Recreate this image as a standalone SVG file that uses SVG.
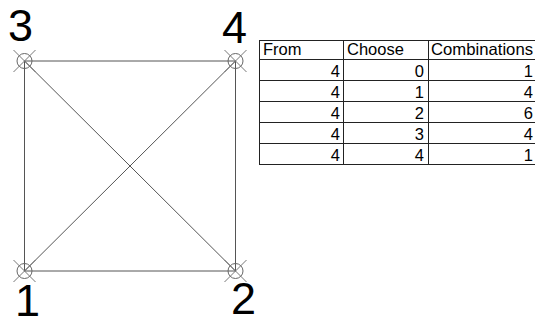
<svg xmlns="http://www.w3.org/2000/svg" width="535" height="320" viewBox="0 0 535 320">
<style>
.edge{stroke:#555;stroke-width:1;fill:none}
.ring{stroke:#666;stroke-width:1;fill:none}
.x{stroke:#777;stroke-width:1}
.lbl{font-family:"Liberation Sans",Arial,sans-serif;font-size:45px;fill:#000}
.grid{stroke:#222;stroke-width:1;fill:none}
.t{font-family:"Liberation Sans",Arial,sans-serif;font-size:16.5px;fill:#000}
.n{text-anchor:end}
</style>
<rect width="535" height="320" fill="#fff"/>
<g id="connectors">
<line class="edge" x1="24.5" y1="61" x2="235.5" y2="61"/>
<line class="edge" x1="24.5" y1="271" x2="235.5" y2="271"/>
<line class="edge" x1="24.5" y1="61" x2="24.5" y2="271"/>
<line class="edge" x1="235.5" y1="61" x2="235.5" y2="271"/>
<line class="edge" x1="24.5" y1="61" x2="235.5" y2="271"/>
<line class="edge" x1="235.5" y1="61" x2="24.5" y2="271"/>
</g>
<g id="node-3">
<circle class="ring" cx="24.5" cy="61" r="7.5"/>
<line class="x" x1="13.5" y1="50" x2="35.5" y2="72"/>
<line class="x" x1="35.5" y1="50" x2="13.5" y2="72"/>
<text class="lbl" x="8" y="41">3</text>
</g>
<g id="node-4">
<circle class="ring" cx="235.5" cy="61" r="7.5"/>
<line class="x" x1="224.5" y1="50" x2="246.5" y2="72"/>
<line class="x" x1="246.5" y1="50" x2="224.5" y2="72"/>
<text class="lbl" x="222" y="43">4</text>
</g>
<g id="node-1">
<circle class="ring" cx="24.5" cy="271" r="7.5"/>
<line class="x" x1="13.5" y1="260" x2="35.5" y2="282"/>
<line class="x" x1="35.5" y1="260" x2="13.5" y2="282"/>
<text class="lbl" x="15" y="316">1</text>
</g>
<g id="node-2">
<circle class="ring" cx="235.5" cy="271" r="7.5"/>
<line class="x" x1="224.5" y1="260" x2="246.5" y2="282"/>
<line class="x" x1="246.5" y1="260" x2="224.5" y2="282"/>
<text class="lbl" x="231" y="314">2</text>
</g>
<g id="table">
<rect class="grid" x="259.5" y="40.5" width="290" height="124"/>
<line class="grid" x1="343.5" y1="40.5" x2="343.5" y2="164.5"/>
<line class="grid" x1="428.5" y1="40.5" x2="428.5" y2="164.5"/>
<line class="grid" x1="259.5" y1="59.5" x2="549.5" y2="59.5"/>
<line class="grid" x1="259.5" y1="80.5" x2="549.5" y2="80.5"/>
<line class="grid" x1="259.5" y1="101.5" x2="549.5" y2="101.5"/>
<line class="grid" x1="259.5" y1="122.5" x2="549.5" y2="122.5"/>
<line class="grid" x1="259.5" y1="143.5" x2="549.5" y2="143.5"/>
<text class="t" x="263" y="55">From</text>
<text class="t" x="347" y="55">Choose</text>
<text class="t" x="431" y="55" textLength="102" lengthAdjust="spacingAndGlyphs">Combinations</text>
<text class="t n" x="340" y="77">4</text><text class="t n" x="424" y="77">0</text><text class="t n" x="533" y="77">1</text>
<text class="t n" x="340" y="98">4</text><text class="t n" x="424" y="98">1</text><text class="t n" x="533" y="98">4</text>
<text class="t n" x="340" y="119">4</text><text class="t n" x="424" y="119">2</text><text class="t n" x="533" y="119">6</text>
<text class="t n" x="340" y="140">4</text><text class="t n" x="424" y="140">3</text><text class="t n" x="533" y="140">4</text>
<text class="t n" x="340" y="161">4</text><text class="t n" x="424" y="161">4</text><text class="t n" x="533" y="161">1</text>
</g>
</svg>
